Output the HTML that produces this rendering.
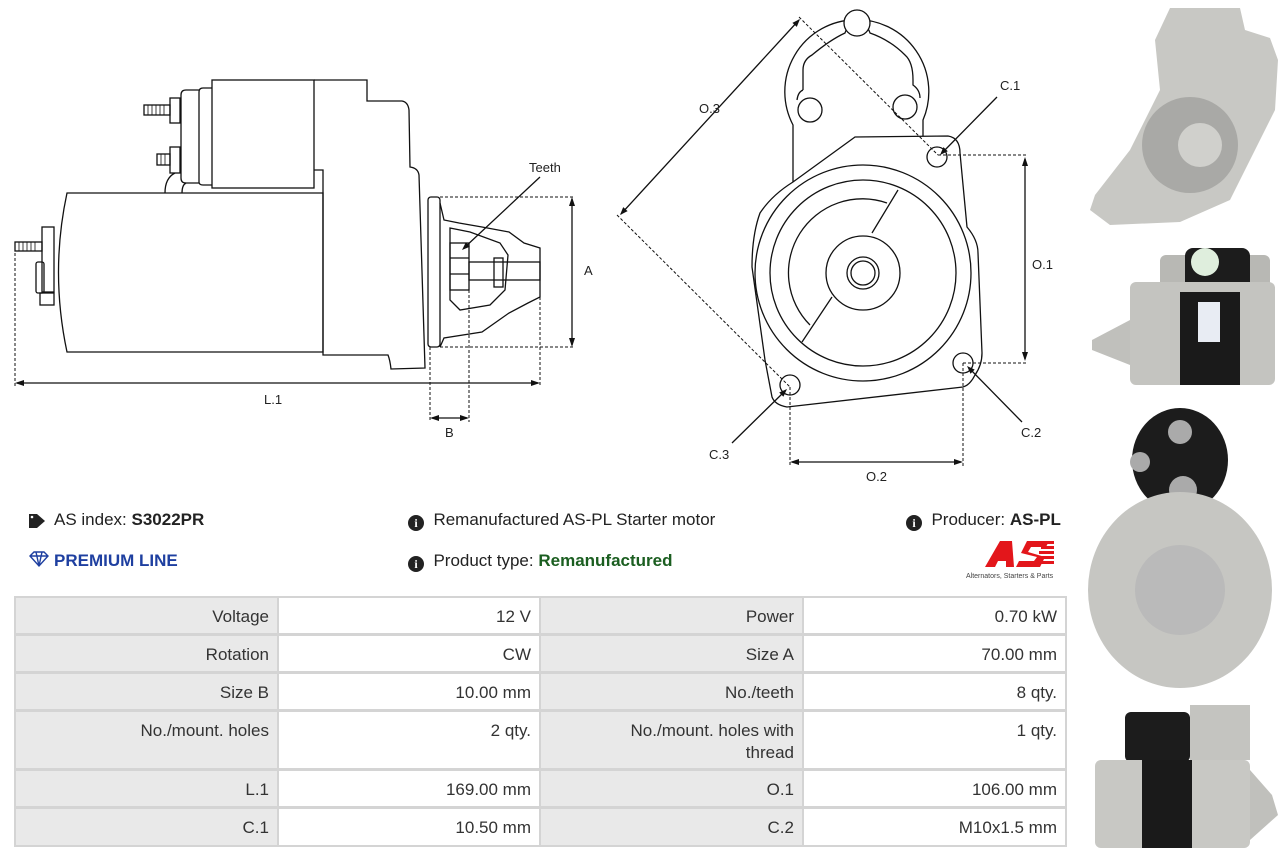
<!DOCTYPE html>
<html><head><meta charset="utf-8"><style>
html,body{margin:0;padding:0;background:#fff;width:1288px;height:860px;overflow:hidden;font-family:"Liberation Sans",sans-serif;color:#222}
.t{position:absolute;font-size:17px;white-space:nowrap}
#tbl{position:absolute;left:14px;top:596px;width:1053px;height:251px;background:#d4d4d4}
.c{position:absolute;box-sizing:border-box;text-align:right;padding:8px 8px 0 0;font-size:17px;color:#333;line-height:22px}
.g{background:#e9e9e9}.w{background:#fff}
</style></head><body>
<svg width="1288" height="860" style="position:absolute;left:0;top:0" fill="none" stroke="#111" stroke-width="1.3">
<!-- side view -->
<rect x="212" y="80" width="102" height="108"/>
<path d="M212,88 L203,88 Q199,88 199,92 L199,182 Q199,185 203,185 L212,185"/>
<path d="M199,90 L186,90 Q181,90 181,95 L181,178 Q181,183 186,183 L199,183"/>
<rect x="170" y="98" width="10" height="25"/><rect x="144" y="105" width="26" height="10"/>
<path d="M148,105v10M152,105v10M156,105v10M160,105v10M164,105v10" stroke-width="0.8"/>
<rect x="170" y="147" width="10" height="26"/><rect x="157" y="154" width="13" height="11"/>
<path d="M161,154v11M165,154v11" stroke-width="0.8"/>
<path d="M165,193 Q165,178 175,173 M182,193 Q182,185 186,183"/>
<path d="M314,80 L367,80 L367,101 L402,101 Q408,102 409,110 L410,167 Q418,168 419,175 L425,368 L391,369 Q390,360 388,355 L323,355 L323,170 L314,170"/>
<path d="M67,193 L323,193 L323,352 L67,352 Q50,272 67,193 Z"/>
<rect x="42" y="227" width="12" height="65"/><rect x="36" y="262" width="8" height="31" rx="2"/>
<rect x="15" y="242" width="27" height="9"/><path d="M19,242v9M23,242v9M27,242v9M31,242v9M35,242v9" stroke-width="0.8"/>
<rect x="40" y="293" width="14" height="12"/>
<rect x="428" y="197" width="12" height="150" rx="3"/>
<path d="M440,203 L444,220 L459,223 L482,227 L509,232 L524,243 L540,248 L540,297 L528,303 L509,313 L482,332 L444,338 L440,347"/>
<path d="M450,228 L470,232 L500,243 L508,255 L505,290 L490,305 L460,310 L450,300 Z"/>
<rect x="450" y="243" width="19" height="47"/><path d="M450,258h19M450,274h19"/>
<rect x="469" y="262" width="71" height="18"/><rect x="494" y="258" width="9" height="29"/>
<g stroke-dasharray="3,2" stroke-width="1"><path d="M430,197H574M430,347H574M15,243V386M540,297V386M430,347V422M469,290V422"/></g>
<path d="M572,199V345M17,383H538M432,418H467M540,177L464,248"/>
<!-- front view -->
<path d="M793,182 L793,125 A72,72 0 1 1 923,120 L923,137"/>
<path d="M803,90 L803,70 Q803,60 812,55 Q830,40 845,33 A13,13 0 0 1 870,33 Q890,40 905,55 Q913,62 913,80 L913,85 Q920,90 920,98"/>
<path d="M803,90 Q798,92 797,100"/>
<circle cx="857" cy="23" r="13" fill="#fff"/><circle cx="810" cy="110" r="12"/><circle cx="905" cy="107" r="12"/>
<path d="M855,137 L948,136 Q960,138 960,153 L967,227 Q978,240 978,253 L982,353 Q982,365 975,375 Q970,385 963,387 L787,407 Q775,405 772,397 L765,360 L752,267 Q752,235 760,213 Q772,195 793,182 Z" fill="#fff"/>
<circle cx="863" cy="273" r="108"/><circle cx="863" cy="273" r="93"/>
<path d="M887,203 A74,74 0 0 0 810,325"/><path d="M898,190 L872,233 M832,297 L802,342"/>
<circle cx="863" cy="273" r="37"/><circle cx="863" cy="273" r="16"/><circle cx="863" cy="273" r="12"/>
<circle cx="937" cy="157" r="10"/><circle cx="963" cy="363" r="10"/><circle cx="790" cy="385" r="10"/>
<g stroke-dasharray="3,2" stroke-width="1"><path d="M799,17L938,155M617,215L790,387M938,155H1028M963,363H1028M790,387V466M963,363V466"/></g>
<path d="M799,20L621,214M1025,159V359M792,462H961M997,97L942,153M1022,422L969,368M732,443L785,391"/>
<!-- arrowheads -->
<g fill="#111" stroke="none">
<polygon points="572,197 569,206 575,206"/><polygon points="572,347 569,338 575,338"/>
<polygon points="15,383 24,380 24,386"/><polygon points="540,383 531,380 531,386"/>
<polygon points="430,418 439,415 439,421"/><polygon points="469,418 460,415 460,421"/>
<polygon points="462,250 469.8,246.8 465.8,242.4"/>
<polygon points="800,19 796.8,26.9 792.4,22.9"/><polygon points="620,215 627.6,211.1 623.2,207.1"/>
<polygon points="1025,157 1022,166 1028,166"/><polygon points="1025,361 1022,352 1028,352"/>
<polygon points="790,462 799,459 799,465"/><polygon points="963,462 954,459 954,465"/>
<polygon points="940,155 947.8,151.3 943.4,147.1"/>
<polygon points="967,366 974.7,369.6 970.5,373.8"/>
<polygon points="787,389 783.4,396.7 779.2,392.5"/>
</g>
<!-- photos -->
<g stroke="none">
<path d="M1170,8 L1240,8 L1245,30 L1270,38 L1278,60 L1275,110 L1250,160 L1230,200 L1180,222 L1110,225 L1090,210 L1095,195 L1130,150 L1160,90 L1155,40 Z" fill="#c8c8c4"/>
<circle cx="1190" cy="145" r="48" fill="#a9a9a6"/><circle cx="1200" cy="145" r="22" fill="#d0d0cc"/>
<rect x="1160" y="255" width="110" height="55" rx="6" fill="#b8b8b4"/>
<rect x="1185" y="248" width="65" height="50" rx="8" fill="#1c1c1c"/><circle cx="1205" cy="262" r="14" fill="#dfeedd"/>
<rect x="1130" y="282" width="145" height="103" rx="6" fill="#c4c4c0"/>
<rect x="1180" y="292" width="60" height="93" fill="#1a1a1a"/><rect x="1198" y="302" width="22" height="40" fill="#e8ecf3"/>
<path d="M1092,340 L1130,320 L1130,365 L1092,350 Z" fill="#c0c0bc"/>
<ellipse cx="1180" cy="460" rx="48" ry="52" fill="#1c1c1c"/>
<circle cx="1180" cy="432" r="12" fill="#aaa"/><circle cx="1140" cy="462" r="10" fill="#aaa"/><circle cx="1183" cy="490" r="14" fill="#aaa"/>
<ellipse cx="1180" cy="590" rx="92" ry="98" fill="#c6c6c2"/>
<ellipse cx="1180" cy="590" rx="45" ry="45" fill="#bababa"/>
<rect x="1125" y="712" width="65" height="50" rx="6" fill="#1c1c1c"/><rect x="1190" y="705" width="60" height="55" fill="#c4c4c0"/>
<rect x="1095" y="760" width="155" height="88" rx="6" fill="#c8c8c4"/><rect x="1142" y="760" width="50" height="88" fill="#1a1a1a"/>
<path d="M1250,770 L1272,795 L1278,815 L1250,840 Z" fill="#c0c0bc"/>
</g>
<!-- logo -->
<g stroke="none" fill="#e3161b"><path d="M985,567 L1000,541 L1012,541 L1014,567 L1006,567 L1006,561 L998,561 L995,567 Z"/><path d="M1016,567 L1040,567 L1045,557 L1028,552 L1031,547 L1046,547 L1049,541 L1027,541 L1021,553 L1037,557 L1034,561 L1019,561 Z"/>
<path d="M1042,541h12v3h-12zM1041,546h13v3h-13zM1039,551h15v3h-15zM1037,556h17v3h-17zM1035,561h19v3h-19z"/></g>
<g stroke="none" fill="#222"><path d="M29,514 L37,514 L45,521 L37,528 L29,528 Z"/><circle cx="32" cy="517" r="1.3" fill="#fff"/></g>
<path d="M30,556 L34,552 L44,552 L48,556 L39,566 Z M30,556H48 M36,552 L39,566 L42,552" stroke="#1e3fa0" stroke-width="1.4"/>
</svg>
<div class="t" style="left:699px;top:101px;font-size:13px">O.3</div>
<div class="t" style="left:1000px;top:78px;font-size:13px">C.1</div>
<div class="t" style="left:1032px;top:257px;font-size:13px">O.1</div>
<div class="t" style="left:1021px;top:425px;font-size:13px">C.2</div>
<div class="t" style="left:709px;top:447px;font-size:13px">C.3</div>
<div class="t" style="left:866px;top:469px;font-size:13px">O.2</div>
<div class="t" style="left:529px;top:160px;font-size:13px">Teeth</div>
<div class="t" style="left:584px;top:263px;font-size:13px">A</div>
<div class="t" style="left:264px;top:392px;font-size:13px">L.1</div>
<div class="t" style="left:445px;top:425px;font-size:13px">B</div>
<div class="t" style="left:54px;top:510px">AS index: <b>S3022PR</b></div>
<div class="t" style="left:54px;top:551px;color:#1e3fa0;font-weight:bold">PREMIUM LINE</div>
<div class="t" style="left:408px;top:510px"><span style="display:inline-block;width:16px;height:16px;border-radius:50%;background:#222;color:#fff;font-size:12px;text-align:center;line-height:16px;font-weight:bold;vertical-align:-2px;font-family:'Liberation Serif',serif">i</span>&nbsp; Remanufactured AS-PL Starter motor</div>
<div class="t" style="left:408px;top:551px"><span style="display:inline-block;width:16px;height:16px;border-radius:50%;background:#222;color:#fff;font-size:12px;text-align:center;line-height:16px;font-weight:bold;vertical-align:-2px;font-family:'Liberation Serif',serif">i</span>&nbsp; Product type: <b style="color:#1b5e20">Remanufactured</b></div>
<div class="t" style="left:906px;top:510px"><span style="display:inline-block;width:16px;height:16px;border-radius:50%;background:#222;color:#fff;font-size:12px;text-align:center;line-height:16px;font-weight:bold;vertical-align:-2px;font-family:'Liberation Serif',serif">i</span>&nbsp; Producer: <b>AS-PL</b></div>
<div class="t" style="left:966px;top:573px;font-size:7px;color:#444">Alternators, Starters &amp; Parts</div>
<div id="tbl">
<div class="c g" style="left:2px;top:2px;width:261px;height:35px">Voltage</div><div class="c w" style="left:265px;top:2px;width:260px;height:35px">12 V</div><div class="c g" style="left:527px;top:2px;width:261px;height:35px">Power</div><div class="c w" style="left:790px;top:2px;width:261px;height:35px">0.70 kW</div>
<div class="c g" style="left:2px;top:40px;width:261px;height:35px">Rotation</div><div class="c w" style="left:265px;top:40px;width:260px;height:35px">CW</div><div class="c g" style="left:527px;top:40px;width:261px;height:35px">Size A</div><div class="c w" style="left:790px;top:40px;width:261px;height:35px">70.00 mm</div>
<div class="c g" style="left:2px;top:78px;width:261px;height:35px">Size B</div><div class="c w" style="left:265px;top:78px;width:260px;height:35px">10.00 mm</div><div class="c g" style="left:527px;top:78px;width:261px;height:35px">No./teeth</div><div class="c w" style="left:790px;top:78px;width:261px;height:35px">8 qty.</div>
<div class="c g" style="left:2px;top:116px;width:261px;height:56px">No./mount. holes</div><div class="c w" style="left:265px;top:116px;width:260px;height:56px">2 qty.</div><div class="c g" style="left:527px;top:116px;width:261px;height:56px">No./mount. holes with<br>thread</div><div class="c w" style="left:790px;top:116px;width:261px;height:56px">1 qty.</div>
<div class="c g" style="left:2px;top:175px;width:261px;height:35px">L.1</div><div class="c w" style="left:265px;top:175px;width:260px;height:35px">169.00 mm</div><div class="c g" style="left:527px;top:175px;width:261px;height:35px">O.1</div><div class="c w" style="left:790px;top:175px;width:261px;height:35px">106.00 mm</div>
<div class="c g" style="left:2px;top:213px;width:261px;height:36px">C.1</div><div class="c w" style="left:265px;top:213px;width:260px;height:36px">10.50 mm</div><div class="c g" style="left:527px;top:213px;width:261px;height:36px">C.2</div><div class="c w" style="left:790px;top:213px;width:261px;height:36px">M10x1.5 mm</div>
</div>
</body></html>
